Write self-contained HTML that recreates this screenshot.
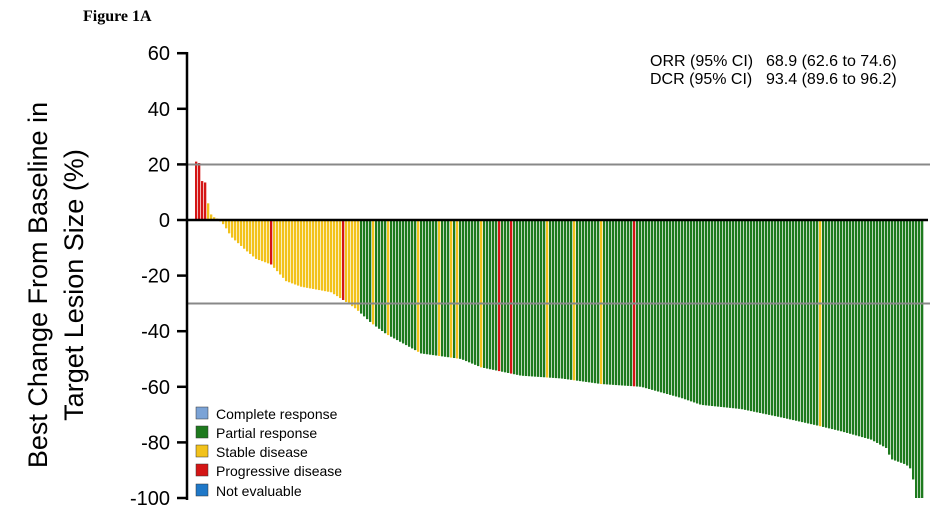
<!DOCTYPE html>
<html><head><meta charset="utf-8"><style>
body{margin:0;background:#fff;}
svg{display:block;font-family:"Liberation Sans",Arial,sans-serif;}
</style></head><body>
<svg id="s" width="949" height="530" xmlns="http://www.w3.org/2000/svg">
<text x="83" y="21" font-family="Liberation Serif,serif" font-weight="bold" font-size="16">Figure 1A</text>
<g id="bars"></g>
<line x1="186" y1="164.5" x2="930" y2="164.5" stroke="#888" stroke-width="2"/>
<line x1="186" y1="303.5" x2="930" y2="303.5" stroke="#888" stroke-width="2"/>
<line x1="186" y1="220" x2="928" y2="220" stroke="#000" stroke-width="2.5"/>
<line x1="187" y1="52" x2="187" y2="500" stroke="#000" stroke-width="2.5"/>
<g id="ticks" font-size="20" text-anchor="end"></g>
<text transform="translate(47,285) rotate(-90)" text-anchor="middle" font-size="27">Best Change From Baseline in</text>
<text transform="translate(83,285) rotate(-90)" text-anchor="middle" font-size="27">Target Lesion Size (%)</text>
<g font-size="16">
<text x="650" y="66">ORR (95% CI)</text><text x="766" y="66">68.9 (62.6 to 74.6)</text>
<text x="650" y="84">DCR (95% CI)</text><text x="766" y="84">93.4 (89.6 to 96.2)</text>
</g>
<g font-size="14">
<rect x="196" y="407" width="12" height="12" fill="#7ba3d6" stroke="#333" stroke-width="0.5"/><text x="216" y="419">Complete response</text>
<rect x="196" y="426" width="12" height="12" fill="#1e7a1e" stroke="#333" stroke-width="0.5"/><text x="216" y="438">Partial response</text>
<rect x="196" y="445" width="12" height="12" fill="#f2c21b" stroke="#333" stroke-width="0.5"/><text x="216" y="457">Stable disease</text>
<rect x="196" y="464" width="12" height="12" fill="#d41515" stroke="#333" stroke-width="0.5"/><text x="216" y="476">Progressive disease</text>
<rect x="196" y="484" width="12" height="12" fill="#1f78c8" stroke="#333" stroke-width="0.5"/><text x="216" y="496">Not evaluable</text>
</g>
</svg>
<script>
var NS="http://www.w3.org/2000/svg";
function Y(v){return 220-v*2.78;}
var t=document.getElementById("ticks");
for(var v=60;v>=-100;v-=20){var y=Y(v);
var l=document.createElementNS(NS,"line");l.setAttribute("x1",177);l.setAttribute("x2",187);l.setAttribute("y1",y);l.setAttribute("y2",y);l.setAttribute("stroke","#000");l.setAttribute("stroke-width",2.5);t.appendChild(l);
var tx=document.createElementNS(NS,"text");tx.setAttribute("x",170);tx.setAttribute("y",y+7);tx.textContent=v;t.appendChild(tx);}
var K=[[195,21],[198,20.5],[201,14],[204,13.5],[207,6],[210,2],[213,1],[216,0.5],[219,-0.5],[222,-1.5],[225,-3],[230,-6],[245,-11],[255,-14],[270,-16],[285,-22],[300,-24],[330,-26],[343,-29],[355,-32],[370,-37],[385,-41],[400,-44],[420,-48],[460,-50],[480,-53],[520,-56],[560,-57],[600,-59],[640,-60],[680,-64],[700,-66.5],[740,-68],[780,-71],[817,-74],[840,-76],[870,-79],[885,-82],[890,-86],[905,-88],[911,-90],[914,-100],[922,-100]];
function val(x){for(var i=0;i<K.length-1;i++){if(x>=K[i][0]&&x<=K[i+1][0]){var a=K[i],b=K[i+1];return a[1]+(b[1]-a[1])*(x-a[0])/(b[0]-a[0]);}}return -100;}
var reds=[195,198,201,204,270,343,498,510,633];
var yel=[356,372,387,417,438,450,456,480,547,572,599,818];
var g=document.getElementById("bars");
for(var x=195;x<=921;x+=3){var v=val(x);
var c="#1e7a1e";
if(x<360)c="#f2c21b";
for(var j=0;j<yel.length;j++)if(Math.abs(x-yel[j])<=1)c="#f2c21b";
for(var j=0;j<reds.length;j++)if(Math.abs(x-reds[j])<=1)c="#d41515";
var r=document.createElementNS(NS,"rect");
var y0=Y(0),y1=Y(v);
r.setAttribute("x",x);r.setAttribute("width",2.3);
r.setAttribute("y",Math.min(y0,y1));r.setAttribute("height",Math.max(0.5,Math.abs(y1-y0)));
r.setAttribute("fill",c);g.appendChild(r);}
</script>
</body></html>
